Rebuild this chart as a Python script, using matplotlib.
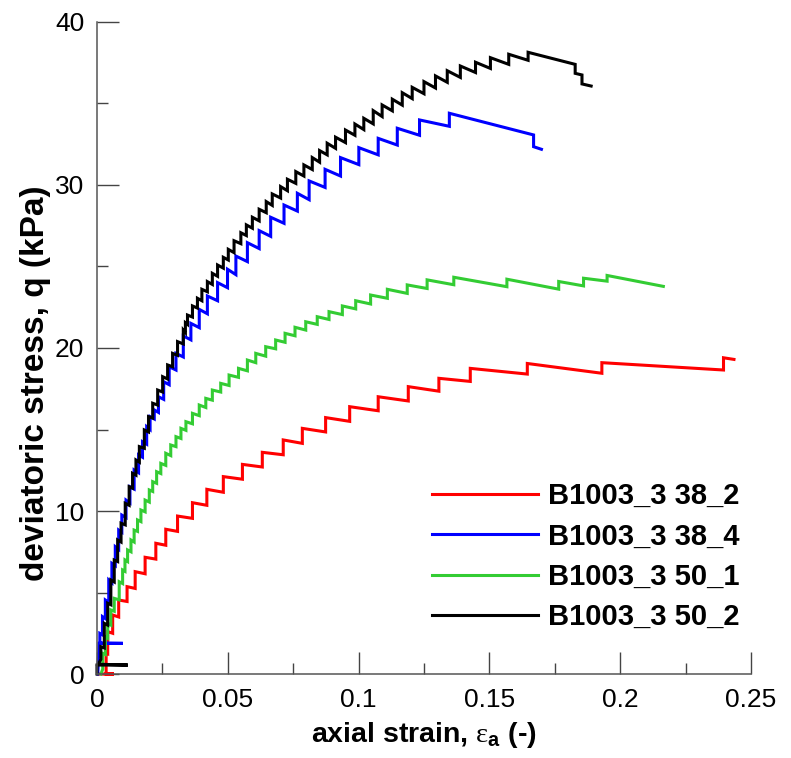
import numpy as np
import matplotlib
matplotlib.use("Agg")
import matplotlib.pyplot as plt

plt.rcParams['font.family'] = ['Liberation Sans', 'DejaVu Sans']
plt.rcParams['mathtext.fontset'] = 'custom'
plt.rcParams['mathtext.rm'] = 'Liberation Serif'
plt.rcParams['mathtext.bf'] = 'Liberation Sans:bold'

# --- data: step loading curves (strain at each load step, q before / after the step)
labels = ['B1003_3 38_2', 'B1003_3 38_4', 'B1003_3 50_1', 'B1003_3 50_2']
colors = ['#ff0000', '#0000ff', '#33cc33', '#000000']

# B1003_3 38_2 (red)
red_lead_x = [0.001, 0.0065, 0.0035]
red_lead_q = [0.0, 0.0, 0.0]
red_step_x = [0.0035, 0.0041, 0.0060, 0.0083, 0.0115, 0.0146, 0.0184, 0.0225, 0.0263,
              0.0308, 0.0365, 0.0420, 0.0483, 0.0556, 0.0632, 0.0712, 0.0785, 0.0874,
              0.0966, 0.1075, 0.1190, 0.1307, 0.1427, 0.1645, 0.1930, 0.2395]
red_q_lo = [0.0, 1.25, 2.5, 3.5, 4.45, 5.25, 6.15, 7.05, 7.9, 8.75, 9.55, 10.35, 11.15,
            11.95, 12.7, 13.45, 14.15, 14.85, 15.5, 16.15, 16.75, 17.35, 17.95, 18.4,
            18.45, 18.65]
red_q_hi = [1.3, 2.6, 3.62, 4.54, 5.36, 6.28, 7.16, 8.02, 8.88, 9.69, 10.51, 11.33, 12.11,
            12.86, 13.60, 14.36, 15.07, 15.73, 16.40, 17.01, 17.63, 18.14, 18.75, 19.05,
            19.1, 19.4]
red_tail_x = [0.2435]
red_tail_q = [19.3]

# B1003_3 38_4 (blue)
blue_lead_x = [0.0003, 0.0008, 0.0099, 0.0009]
blue_lead_q = [0.0, 1.88, 1.88, 1.9]
blue_step_x = [0.0011, 0.0021, 0.0032, 0.0045, 0.0057, 0.0070, 0.0083, 0.0095, 0.0111,
               0.0126, 0.0142, 0.0159, 0.0174, 0.0190, 0.0203, 0.0219, 0.0235, 0.0255,
               0.0276, 0.0302, 0.0330, 0.0359, 0.0391, 0.0422, 0.0461, 0.0499, 0.0531,
               0.0575, 0.0620, 0.0664, 0.0715, 0.0766, 0.0811, 0.0872, 0.0931, 0.1001,
               0.1075, 0.1148, 0.1233, 0.1347, 0.1669]
blue_q_lo = [1.9, 2.4, 3.4, 4.4, 5.6, 6.65, 7.65, 8.7, 9.6, 10.5, 11.35, 12.35, 13.3,
             14.1, 15.0, 15.65, 16.05, 16.85, 17.75, 18.65, 19.45, 20.5, 21.25, 22.1,
             22.9, 23.7, 24.5, 25.3, 26.1, 26.85, 27.65, 28.4, 29.1, 29.85, 30.55, 31.25,
             31.85, 32.45, 33.05, 33.6, 33.07]
blue_q_hi = [2.49, 3.52, 4.54, 5.77, 6.79, 7.81, 8.83, 9.75, 10.67, 11.49, 12.52, 13.44,
             14.25, 15.17, 15.79, 16.20, 17.01, 17.93, 18.85, 19.67, 20.74, 21.51, 22.37,
             23.19, 24.01, 24.83, 25.64, 26.46, 27.20, 28.02, 28.77, 29.49, 30.25, 30.96,
             31.68, 32.29, 32.86, 33.48, 33.99, 34.40, 32.35]
blue_tail_x = [0.1699]
blue_tail_q = [32.19]

# B1003_3 50_1 (green)
green_lead_x = [0.0015]
green_lead_q = [0.0]
green_step_x = [0.0022, 0.0032, 0.0041, 0.0053, 0.0066, 0.0085, 0.0098, 0.0107, 0.0117,
                0.0130, 0.0142, 0.0155, 0.0168, 0.0184, 0.0200, 0.0213, 0.0228, 0.0244,
                0.0263, 0.0282, 0.0302, 0.0321, 0.0340, 0.0365, 0.0391, 0.0416, 0.0441,
                0.0473, 0.0505, 0.0541, 0.0575, 0.0607, 0.0645, 0.0683, 0.0719, 0.0757,
                0.0798, 0.0842, 0.0887, 0.0938, 0.0989, 0.1046, 0.1110, 0.1186, 0.1262,
                0.1364, 0.1567, 0.1765, 0.1860, 0.1950]
green_q_lo = [0.3, 1.2, 2.2, 3.0, 3.85, 4.55, 5.55, 6.3, 6.9, 7.5, 8.1, 8.75, 9.35, 9.95,
              10.55, 11.2, 11.7, 12.3, 12.8, 13.4, 13.95, 14.45, 14.95, 15.35, 15.85,
              16.35, 16.8, 17.3, 17.7, 18.2, 18.6, 19.1, 19.5, 19.95, 20.35, 20.75, 21.1,
              21.45, 21.75, 22.05, 22.4, 22.7, 23.05, 23.35, 23.65, 23.88, 23.76, 23.61,
              23.81, 24.1]
green_q_hi = [1.27, 2.29, 3.11, 3.93, 4.64, 5.66, 6.38, 7.0, 7.61, 8.22, 8.83, 9.45, 10.06,
              10.67, 11.29, 11.80, 12.41, 12.92, 13.54, 14.05, 14.56, 15.07, 15.48, 15.99,
              16.50, 16.91, 17.42, 17.83, 18.34, 18.75, 19.26, 19.67, 20.08, 20.49, 20.90,
              21.27, 21.61, 21.92, 22.23, 22.58, 22.90, 23.25, 23.60, 23.87, 24.18, 24.34,
              24.22, 24.08, 24.28, 24.45]
green_tail_x = [0.2165]
green_tail_q = [23.78]

# B1003_3 50_2 (black)
black_lead_x = [0.0, 0.0, 0.0118, 0.0005]
black_lead_q = [0.0, 0.55, 0.55, 0.6]
black_step_x = [0.0015, 0.0028, 0.0041, 0.0053, 0.0066, 0.0079, 0.0092, 0.0108, 0.0123,
                0.0136, 0.0149, 0.0162, 0.0181, 0.0197, 0.0213, 0.0232, 0.0251, 0.0270,
                0.0289, 0.0308, 0.0330, 0.0338, 0.0346, 0.0365, 0.0384, 0.0401, 0.0422,
                0.0441, 0.0461, 0.0483, 0.0502, 0.0524, 0.0550, 0.0571, 0.0594, 0.0620,
                0.0647, 0.0670, 0.0702, 0.0728, 0.0760, 0.0791, 0.0823, 0.0851, 0.0880,
                0.0912, 0.0950, 0.0986, 0.1020, 0.1056, 0.1090, 0.1129, 0.1167, 0.1205,
                0.1250, 0.1294, 0.1339, 0.1389, 0.1447, 0.1504, 0.1574, 0.1648, 0.1828,
                0.1854]
black_q_lo = [0.9, 1.6, 3.0, 4.25, 5.65, 6.9, 8.1, 9.15, 10.35, 11.4, 12.2, 13.0, 13.85,
              14.85, 15.7, 16.5, 17.3, 18.1, 18.85, 19.55, 20.25, 20.95, 21.45, 21.9,
              22.45, 22.9, 23.45, 23.9, 24.4, 24.9, 25.4, 25.85, 26.4, 26.9, 27.35, 27.8,
              28.3, 28.75, 29.2, 29.65, 30.1, 30.55, 30.95, 31.4, 31.85, 32.25, 32.6,
              33.05, 33.4, 33.75, 34.2, 34.55, 34.9, 35.3, 35.6, 35.95, 36.3, 36.6, 36.9,
              37.15, 37.4, 37.65, 37.40, 36.75]
black_q_hi = [1.68, 3.11, 4.34, 5.77, 6.99, 8.22, 9.25, 10.47, 11.49, 12.31, 13.13, 13.95,
              14.97, 15.79, 16.61, 17.42, 18.24, 18.96, 19.67, 20.39, 21.10, 21.55, 22.02,
              22.58, 23.05, 23.60, 24.07, 24.58, 25.09, 25.56, 26.05, 26.58, 27.07, 27.55,
              28.02, 28.51, 28.98, 29.45, 29.90, 30.35, 30.82, 31.23, 31.68, 32.11, 32.56,
              32.93, 33.37, 33.74, 34.09, 34.56, 34.91, 35.26, 35.66, 35.99, 36.34, 36.69,
              37.01, 37.30, 37.53, 37.81, 38.02, 38.14, 36.85, 36.20]
black_tail_x = [0.1889]
black_tail_q = [36.07]


def stair(lead_x, lead_q, sx, lo, hi, tail_x, tail_q):
    # vertical jump at every load step, then the creep segment to the next step
    xs = list(lead_x)
    qs = list(lead_q)
    for x, a, b in zip(sx, lo, hi):
        xs += [x, x]
        qs += [a, b]
    return np.array(xs + list(tail_x)), np.array(qs + list(tail_q))


series = [
    stair(red_lead_x, red_lead_q, red_step_x, red_q_lo, red_q_hi, red_tail_x, red_tail_q),
    stair(blue_lead_x, blue_lead_q, blue_step_x, blue_q_lo, blue_q_hi, blue_tail_x, blue_tail_q),
    stair(green_lead_x, green_lead_q, green_step_x, green_q_lo, green_q_hi, green_tail_x, green_tail_q),
    stair(black_lead_x, black_lead_q, black_step_x, black_q_lo, black_q_hi, black_tail_x, black_tail_q),
]

fig = plt.figure(figsize=(7.91, 7.58), dpi=100)
ax = fig.add_axes([0.1226, 0.1108, 0.8268, 0.8602])

for (x, q), c, lab in zip(series, colors, labels):
    ax.plot(x, q, color=c, lw=2.2, label=lab, solid_joinstyle='miter', clip_on=False)

ax.set_xlim(0, 0.25)
ax.set_ylim(0, 40)
ax.set_xticks([0, 0.05, 0.1, 0.15, 0.2, 0.25])
ax.set_xticklabels(['0', '0.05', '0.1', '0.15', '0.2', '0.25'])
ax.set_xticks(np.arange(0.025, 0.25, 0.05), minor=True)
ax.set_yticks([0, 10, 20, 30, 40])
ax.set_yticks([5, 15, 25, 35], minor=True)

for s in ['top', 'right']:
    ax.spines[s].set_visible(False)
for s in ['left', 'bottom']:
    ax.spines[s].set_color('#555555')
    ax.spines[s].set_linewidth(1.1)

ax.tick_params(which='major', direction='in', length=15.5, width=1.0, color='#444444',
               labelsize=19, pad=9)
ax.tick_params(axis='x', which='major', pad=10)
ax.tick_params(which='minor', direction='in', length=8, width=1.0, color='#444444')

ax.set_xlabel(r'axial strain, $\mathrm{\varepsilon}_{\mathbf{a}}$ (-)', fontsize=20.5,
              fontweight='bold', labelpad=6)
ax.set_ylabel('deviatoric stress, q (kPa)', fontsize=24, fontweight='bold')
ax.yaxis.set_label_coords(-0.07, 0.446)

leg = ax.legend(loc='upper left', bbox_to_anchor=(0.495, 0.312), frameon=False,
                prop={'weight': 'bold', 'size': 21}, handlelength=3.63,
                handletextpad=0.34, labelspacing=0.42, borderaxespad=0)

fig.savefig('out.png', dpi=100)
